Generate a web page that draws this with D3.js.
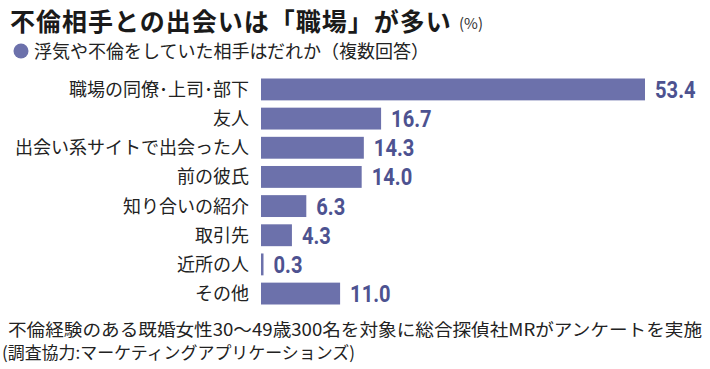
<!DOCTYPE html>
<html><head><meta charset="utf-8">
<script src="https://cdn.jsdelivr.net/npm/d3@7"></script>
<style>
body{margin:0;background:#fff;}
svg{display:block;}
</style></head>
<body>
<svg id="c" width="710" height="369"></svg>
<script>
const categories = ["職場の同僚･上司･部下","友人","出会い系サイトで出会った人","前の彼氏","知り合いの紹介","取引先","近所の人","その他"];
const values = [53.4,16.7,14.3,14.0,6.3,4.3,0.3,11.0];
const valueLabels = ["53.4","16.7","14.3","14.0","6.3","4.3","0.3","11.0"];

const svg = d3.select("#c");
const JP = "'Noto Sans CJK JP','Noto Sans',sans-serif";
const NUM = "'Roboto','Liberation Sans',sans-serif";
const barColor = "#6c71ab", numColor = "#4d5290";

const x = d3.scaleLinear().domain([0,53.4]).range([261,645]);
const y = d3.scaleBand().domain(categories).range([75,308]).paddingInner(0.25).paddingOuter(0.12);

// title
svg.append("text").attr("x",10).attr("y",31).attr("font-family",JP).attr("font-weight",700)
  .attr("font-size",25).attr("fill","#1a1a1a").attr("letter-spacing",1).text("不倫相手との出会いは「職場」が多い");
svg.append("text").attr("x",459).attr("y",29).attr("font-family",JP).attr("font-size",15).attr("fill","#333").text("(%)");
svg.append("circle").attr("cx",21).attr("cy",51).attr("r",7.5).attr("fill",barColor);
svg.append("text").attr("x",34).attr("y",58).attr("font-family",JP).attr("font-size",18).attr("fill","#222").text("浮気や不倫をしていた相手はだれか（複数回答）");

const g = svg.append("g");
g.selectAll("rect").data(values).join("rect")
  .attr("x",x(0)).attr("y",(d,i)=>y(categories[i]))
  .attr("width",d=>Math.max(x(d)-x(0),2.5)).attr("height",y.bandwidth()).attr("fill",barColor);

g.selectAll("text.cat").data(categories).join("text").attr("class","cat")
  .attr("x",249).attr("y",d=>y(d)+y.bandwidth()/2+6.5).attr("text-anchor","end")
  .attr("font-family",JP).attr("font-size",18).attr("fill","#222").text(d=>d);

g.selectAll("text.val").data(values).join("text").attr("class","val")
  .attr("transform",(d,i)=>`translate(${Math.max(x(d),x(0)+2.5)+10},${y(categories[i])+y.bandwidth()/2+8.5}) scale(0.84,1)`)
  .attr("font-family",NUM).attr("font-weight",700).attr("font-size",24).attr("fill",numColor)
  .text((d,i)=>valueLabels[i]);

svg.append("text").attr("x",8).attr("y",336).attr("font-family",JP).attr("font-size",17).attr("fill","#222")
  .attr("textLength",694).attr("lengthAdjust","spacingAndGlyphs")
  .text("不倫経験のある既婚女性30～49歳300名を対象に総合探偵社MRがアンケートを実施");
svg.append("text").attr("x",2).attr("y",359).attr("font-family",JP).attr("font-size",17).attr("fill","#222")
  .attr("textLength",353).attr("lengthAdjust","spacingAndGlyphs")
  .text("(調査協力:マーケティングアプリケーションズ)");
</script>
</body></html>
